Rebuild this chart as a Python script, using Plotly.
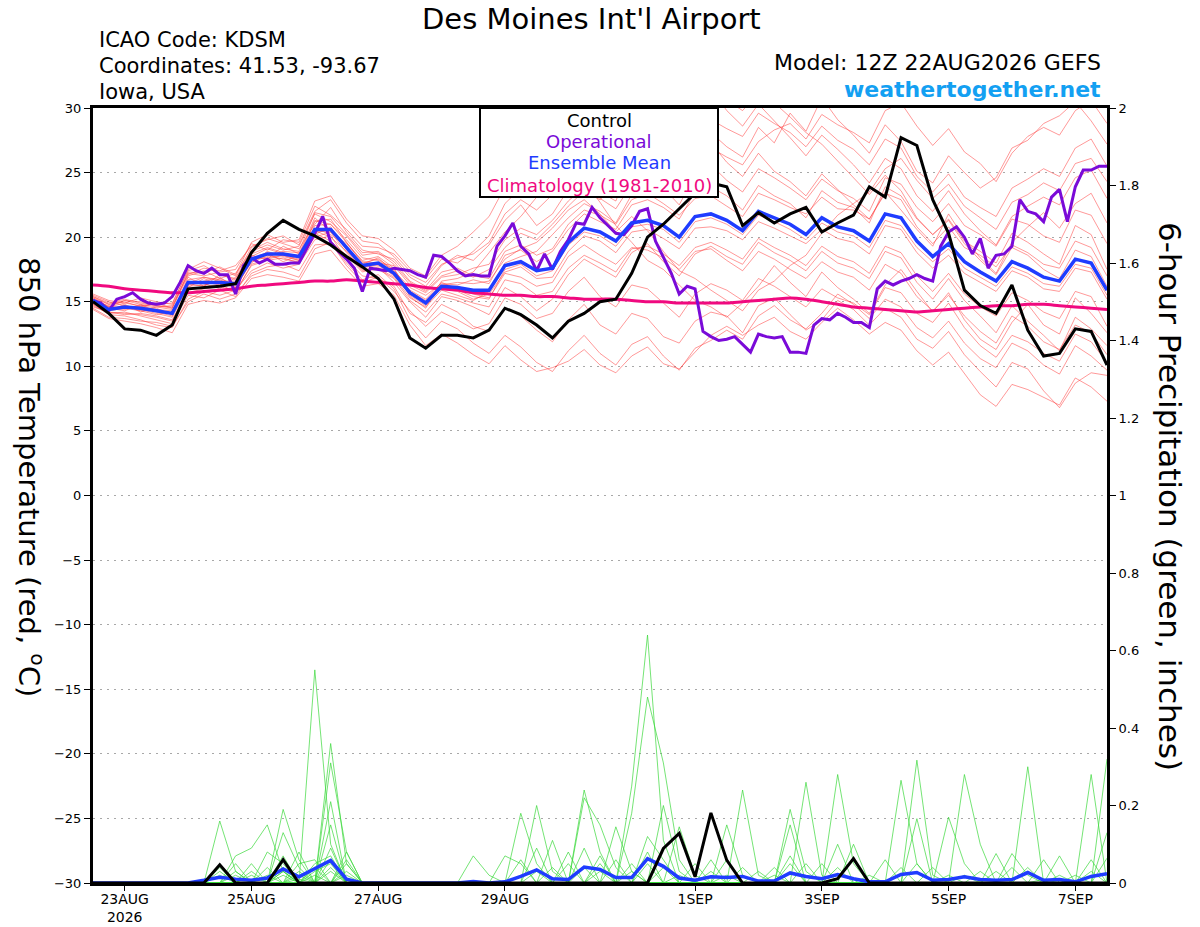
import pandas as pd
import plotly.graph_objects as go

FONT = "DejaVu Sans, Liberation Sans, Arial, sans-serif"

# valid times of the 12Z 22AUG2026 GEFS run (6-hourly), operational run is 3-hourly
times6 = pd.date_range("2026-08-22 12:00", periods=65, freq="6h")
times3 = pd.date_range("2026-08-22 12:00", periods=129, freq="3h")

# ---- 850 hPa temperature (deg C) ----
control_t = [15.0, 14.1, 12.9, 12.8, 12.4, 13.2, 16.0, 16.1, 16.2, 16.4,
             18.8, 20.3, 21.3, 20.6, 20.1, 19.4, 18.5, 17.7, 16.8, 15.2,
             12.2, 11.4, 12.4, 12.4, 12.2, 12.8, 14.5, 14.0, 13.2, 12.2,
             13.5, 14.1, 15.0, 15.2, 17.2, 20.0, 21.0, 22.2, 23.4, 24.2,
             23.9, 20.9, 21.9, 21.1, 21.8, 22.3, 20.4, 21.1, 21.7, 23.9,
             23.1, 27.7, 27.1, 22.9, 20.3, 15.9, 14.7, 14.1, 16.3, 12.8,
             10.8, 11.0, 12.9, 12.7, 10.1]

mean_t = [15.1, 14.4, 14.6, 14.5, 14.3, 14.1, 16.5, 16.5, 16.5, 16.4,
          18.3, 18.7, 18.7, 18.5, 20.6, 20.6, 19.2, 17.8, 18.0, 17.2,
          15.7, 14.9, 16.2, 16.1, 15.9, 15.9, 17.8, 18.1, 17.4, 17.6,
          19.6, 20.7, 20.4, 19.7, 21.1, 21.3, 20.9, 20.0, 21.6, 21.8,
          21.3, 20.5, 22.0, 21.5, 21.0, 20.2, 21.5, 20.8, 20.5, 19.7,
          21.8, 21.5, 19.7, 18.5, 19.5, 18.1, 17.3, 16.6, 18.1, 17.6,
          16.9, 16.6, 18.3, 18.0, 15.9]

oper_t = [15.1, 14.9, 14.3, 15.2, 15.4, 15.7, 15.2, 14.9, 14.8, 14.9,
          15.4, 16.5, 17.8, 17.4, 17.2, 17.6, 17.1, 17.1, 15.6, 17.8,
          18.4, 18.0, 18.3, 17.9, 17.9, 18.0, 18.0, 19.1, 20.3, 21.6,
          19.6, 18.9, 18.3, 17.6, 15.8, 17.6, 17.5, 17.4, 17.6, 17.5,
          17.4, 17.1, 16.9, 18.6, 18.5, 18.0, 17.4, 17.0, 17.1, 17.0,
          17.0, 19.3, 20.1, 21.1, 19.3, 18.7, 17.4, 18.7, 17.5, 18.9,
          19.8, 21.1, 21.0, 22.3, 21.5, 20.9, 20.3, 20.2, 20.9, 22.0,
          22.2, 19.7, 18.5, 17.2, 15.6, 16.2, 16.0, 12.7, 12.3, 12.0,
          12.1, 12.3, 11.7, 11.1, 12.5, 12.3, 12.2, 12.3, 11.1, 11.1,
          11.0, 13.2, 13.7, 13.6, 14.1, 13.8, 13.4, 13.4, 13.0, 16.0,
          16.6, 16.3, 16.6, 16.8, 17.1, 16.8, 16.6, 19.3, 20.4, 20.8,
          20.0, 18.7, 19.9, 17.6, 18.6, 18.7, 19.3, 22.9, 22.0, 21.8,
          21.2, 23.1, 23.7, 21.2, 23.9, 25.2, 25.2, 25.5, 25.5]

clim_t = [16.3, 16.2, 16.0, 15.9, 15.8, 15.7, 15.7, 15.8, 15.9, 16.0,
          16.2, 16.3, 16.4, 16.5, 16.6, 16.6, 16.7, 16.6, 16.5, 16.4,
          16.3, 16.1, 16.0, 15.9, 15.7, 15.6, 15.5, 15.5, 15.4, 15.4,
          15.3, 15.2, 15.2, 15.2, 15.1, 15.0, 15.0, 14.9, 14.9, 14.9,
          14.9, 15.0, 15.1, 15.2, 15.3, 15.2, 15.0, 14.8, 14.6, 14.5,
          14.4, 14.3, 14.2, 14.3, 14.4, 14.5, 14.6, 14.7, 14.7, 14.8,
          14.8, 14.7, 14.6, 14.5, 14.4]

member_t = [
    [15.3, 14.8, 15.0, 14.6, 14.9, 14.5, 17.0, 17.4, 16.8, 17.2, 18.9, 19.4, 19.0, 19.3, 21.8, 21.2, 20.1, 18.6, 18.8, 17.9,
     16.5, 15.8, 17.0, 17.4, 16.9, 17.5, 19.2, 20.3, 19.8, 21.0, 22.4, 23.6, 22.9, 24.1, 25.3, 24.7, 26.0, 25.2, 27.4, 28.1,
     27.0, 26.2, 28.5, 27.3, 29.6, 28.2, 30.8, 29.1, 27.9, 26.5, 28.7, 27.4, 25.1, 24.2, 26.3, 25.0, 23.8, 24.6, 26.9, 27.5,
     28.8, 29.4, 30.5, 29.0, 27.2],
    [14.8, 14.0, 13.9, 13.6, 13.2, 13.0, 15.2, 15.8, 15.5, 15.9, 17.4, 18.0, 17.6, 17.9, 19.8, 20.1, 18.3, 17.0, 16.8, 16.2,
     14.1, 13.4, 14.8, 14.2, 13.1, 12.7, 14.5, 13.9, 12.8, 11.9, 13.6, 14.8, 13.2, 12.5, 14.1, 13.7, 12.3, 11.8, 13.5, 14.2,
     13.9, 12.6, 14.7, 15.3, 14.0, 12.8, 13.6, 15.1, 14.4, 13.2, 14.5, 13.8, 12.1, 11.4, 12.7, 10.9, 9.6, 8.4, 10.3, 9.8,
     8.1, 6.8, 8.7, 9.5, 9.3],
    [15.6, 15.1, 14.9, 15.3, 15.0, 14.8, 17.5, 18.1, 17.6, 17.0, 19.2, 19.9, 19.5, 19.1, 21.0, 22.3, 20.4, 19.0, 18.7, 18.3,
     16.9, 16.2, 17.8, 18.6, 18.2, 19.4, 21.3, 22.5, 20.9, 21.8, 23.7, 24.9, 23.5, 22.8, 25.9, 26.8, 25.4, 24.1, 26.2, 27.3,
     25.8, 24.7, 26.5, 25.1, 24.3, 23.2, 24.9, 23.7, 22.5, 21.4, 23.5, 22.1, 20.6, 19.3, 21.8, 19.9, 18.4, 17.2, 19.6, 20.8,
     21.9, 20.7, 22.6, 23.4, 21.1],
    [14.6, 14.2, 14.1, 14.0, 13.8, 13.5, 15.7, 16.0, 16.2, 15.8, 17.8, 18.2, 18.4, 18.0, 20.3, 19.7, 18.6, 17.3, 17.7, 16.5,
     15.0, 13.8, 15.4, 15.1, 14.6, 14.0, 16.1, 15.4, 14.3, 15.2, 17.1, 18.3, 17.6, 16.9, 18.8, 19.5, 18.1, 17.0, 18.7, 19.3,
     18.5, 17.9, 19.6, 18.8, 18.2, 17.4, 18.9, 18.0, 17.6, 16.8, 18.9, 18.4, 16.5, 15.2, 16.8, 15.1, 13.9, 12.6, 14.7, 13.5,
     12.4, 11.2, 13.8, 12.9, 11.6],
    [15.2, 14.5, 14.3, 14.8, 14.2, 13.9, 16.9, 16.2, 17.1, 16.7, 18.6, 18.3, 19.3, 18.7, 21.5, 20.4, 19.5, 18.2, 18.5, 17.6,
     15.4, 14.5, 16.6, 16.8, 17.3, 18.8, 20.4, 21.6, 23.1, 24.5, 25.8, 24.3, 22.7, 20.9, 19.6, 18.2, 17.5, 16.3, 15.1, 14.6,
     13.8, 14.9, 16.2, 17.8, 16.5, 15.4, 17.3, 16.1, 15.2, 14.1, 16.3, 17.5, 15.8, 14.2, 15.7, 13.6, 12.1, 11.3, 13.4, 14.8,
     13.2, 12.5, 15.3, 14.1, 12.6],
    [14.9, 14.3, 14.8, 14.2, 14.6, 14.4, 16.1, 16.8, 16.3, 16.5, 18.0, 18.9, 18.5, 18.2, 20.9, 21.0, 19.8, 18.4, 18.2, 17.4,
     16.1, 15.5, 16.4, 16.3, 16.7, 16.4, 18.6, 19.0, 18.1, 18.9, 20.6, 21.8, 21.2, 20.6, 22.5, 22.9, 22.3, 21.4, 23.5, 23.9,
     23.2, 22.1, 24.0, 23.2, 22.6, 21.5, 23.6, 22.7, 22.3, 21.1, 23.9, 23.2, 21.4, 20.2, 21.4, 19.7, 18.9, 18.0, 20.3, 19.6,
     18.7, 17.9, 20.9, 20.2, 17.5],
    [15.0, 14.6, 14.4, 14.7, 14.5, 14.0, 16.3, 16.6, 16.9, 16.1, 18.1, 18.5, 18.9, 18.8, 20.2, 20.8, 19.0, 17.6, 17.9, 17.0,
     15.6, 15.0, 16.0, 15.8, 15.2, 15.6, 17.3, 17.7, 16.8, 16.9, 18.9, 20.1, 19.7, 18.8, 20.4, 20.6, 19.9, 19.1, 20.7, 20.8,
     20.5, 19.8, 21.2, 20.7, 20.1, 19.5, 20.6, 19.9, 19.6, 18.7, 20.9, 20.6, 18.8, 17.6, 18.6, 17.2, 16.5, 15.8, 17.4, 16.9,
     16.0, 15.8, 17.6, 17.3, 15.2],
    [15.4, 14.9, 15.2, 14.9, 14.7, 14.6, 17.2, 17.0, 17.3, 17.5, 19.5, 19.0, 19.8, 19.6, 22.4, 21.7, 20.6, 19.3, 19.2, 18.7,
     17.4, 16.8, 18.3, 18.0, 18.9, 20.1, 22.6, 23.8, 24.4, 25.6, 26.9, 28.3, 27.2, 26.4, 28.7, 29.5, 30.6, 29.3, 30.9, 31.5,
     29.8, 28.6, 30.3, 29.0, 27.7, 26.3, 27.9, 26.8, 25.6, 24.2, 26.1, 25.3, 23.2, 22.0, 23.6, 21.8, 20.5, 19.4, 21.6, 22.4,
     23.1, 22.5, 24.6, 25.2, 23.0],
    [14.7, 14.1, 14.2, 13.9, 13.6, 13.3, 15.5, 15.3, 15.9, 15.4, 17.2, 17.7, 17.9, 17.4, 19.4, 19.5, 18.0, 16.7, 17.1, 16.0,
     13.6, 12.2, 13.5, 12.9, 11.8, 11.0, 12.4, 11.5, 10.3, 9.6, 11.2, 12.4, 11.0, 10.1, 11.7, 12.3, 10.8, 9.7, 11.4, 12.0,
     12.8, 12.1, 13.9, 14.7, 13.6, 12.9, 14.1, 15.6, 14.8, 13.7, 15.2, 14.6, 13.0, 12.2, 13.5, 11.8, 10.6, 9.9, 11.8, 11.2,
     10.1, 9.4, 11.6, 10.8, 9.7],
    [15.1, 14.7, 14.5, 14.3, 14.0, 14.2, 16.6, 16.4, 16.0, 16.9, 18.4, 18.8, 18.1, 18.6, 20.7, 20.2, 19.3, 17.9, 18.4, 17.3,
     15.9, 15.2, 16.5, 16.0, 15.6, 15.3, 17.2, 16.9, 16.2, 16.5, 18.5, 19.4, 18.6, 17.9, 19.2, 19.0, 18.4, 17.5, 18.9, 19.1,
     18.2, 17.4, 18.9, 18.3, 17.5, 16.8, 18.1, 17.3, 16.9, 15.9, 17.9, 17.2, 15.4, 14.3, 15.5, 13.9, 12.7, 11.8, 13.9, 13.1,
     11.9, 11.3, 13.2, 12.6, 10.9],
    [15.5, 15.0, 14.7, 14.5, 14.4, 14.3, 16.4, 16.9, 16.7, 16.2, 18.7, 19.2, 18.8, 18.4, 21.2, 21.4, 19.6, 18.1, 18.0, 17.8,
     16.3, 15.7, 16.9, 17.1, 17.6, 17.9, 19.8, 20.7, 20.2, 21.3, 22.8, 23.9, 23.0, 22.2, 24.1, 24.6, 23.8, 22.5, 24.8, 25.6,
     24.4, 23.5, 25.3, 24.6, 23.8, 22.9, 24.5, 23.6, 23.0, 22.0, 24.6, 24.1, 22.3, 21.2, 22.6, 20.9, 20.2, 19.3, 21.4, 21.0,
     20.1, 19.6, 22.1, 21.7, 19.5],
    [14.9, 14.4, 14.6, 14.4, 14.1, 13.8, 16.2, 16.3, 16.6, 16.0, 18.2, 18.6, 18.3, 18.1, 20.5, 20.0, 18.9, 17.5, 17.6, 16.9,
     15.3, 14.6, 15.9, 15.5, 15.1, 15.8, 18.0, 18.5, 18.9, 20.2, 21.5, 22.6, 22.0, 21.1, 23.3, 24.2, 24.8, 23.9, 25.8, 26.9,
     26.2, 25.6, 27.4, 28.3, 28.8, 27.6, 29.5, 28.7, 28.1, 27.3, 29.8, 30.4, 28.6, 27.1, 28.4, 26.6, 25.7, 24.3, 26.5, 27.8,
     28.5, 27.9, 29.8, 30.6, 28.8],
    [15.3, 14.6, 14.9, 14.7, 14.8, 14.9, 17.4, 17.8, 17.1, 16.8, 19.0, 19.6, 19.1, 18.9, 21.9, 21.6, 20.2, 18.8, 18.9, 18.1,
     16.6, 15.9, 17.3, 17.6, 17.0, 16.8, 18.9, 19.4, 18.6, 19.1, 21.0, 22.1, 21.7, 21.0, 22.9, 23.4, 22.6, 21.7, 23.0, 23.2,
     22.4, 21.6, 23.4, 22.9, 22.3, 21.8, 23.1, 22.2, 22.1, 21.4, 23.4, 22.9, 20.8, 19.5, 20.8, 19.2, 18.6, 17.7, 19.4, 18.8,
     17.9, 17.6, 19.7, 19.2, 17.0],
    [14.5, 13.8, 13.7, 13.5, 13.4, 13.1, 15.0, 15.6, 15.2, 15.6, 17.0, 17.5, 17.3, 16.9, 19.1, 19.6, 17.8, 16.5, 16.9, 15.8,
     14.3, 13.1, 14.2, 13.6, 12.9, 13.3, 15.3, 14.8, 13.7, 14.1, 15.8, 16.9, 15.4, 14.6, 16.3, 16.0, 14.9, 13.8, 15.6, 16.4,
     15.9, 15.1, 16.8, 16.2, 15.4, 14.6, 16.0, 15.3, 14.9, 14.0, 16.1, 15.7, 14.1, 13.4, 14.9, 13.0, 11.6, 10.7, 12.4, 11.9,
     11.0, 10.4, 12.5, 11.9, 10.3],
    [14.4, 13.7, 13.5, 13.3, 13.0, 12.6, 14.8, 15.1, 14.9, 15.3, 16.8, 17.1, 16.9, 16.6, 18.7, 19.0, 17.5, 16.2, 16.4, 15.5,
     13.2, 11.6, 12.5, 11.8, 10.9, 10.2, 11.6, 10.5, 9.6, 9.9, 10.4, 11.3, 10.1, 9.5, 10.8, 11.5, 10.2, 9.8, 11.1, 12.4,
     13.1, 12.4, 13.2, 13.8, 12.7, 12.1, 13.4, 14.5, 13.6, 12.5, 13.4, 12.8, 11.2, 10.1, 11.1, 9.4, 7.8, 6.9, 8.6, 8.2,
     7.6, 7.0, 9.1, 8.4, 7.3],
    [15.2, 14.6, 15.1, 14.8, 14.6, 14.7, 17.1, 17.6, 17.4, 17.8, 19.3, 19.8, 20.1, 19.4, 22.0, 22.9, 21.1, 19.7, 19.5, 18.5,
     17.1, 16.5, 17.9, 18.4, 18.7, 19.6, 21.8, 22.9, 22.1, 23.3, 24.8, 26.2, 25.5, 24.6, 26.9, 27.5, 27.0, 26.1, 28.3, 29.1,
     28.4, 27.8, 29.6, 28.8, 28.1, 27.0, 28.6, 27.5, 26.8, 25.6, 27.6, 26.9, 24.7, 23.5, 24.9, 23.1, 22.3, 21.6, 23.8, 24.5,
     25.3, 24.7, 26.9, 27.6, 25.5],
    [14.8, 14.2, 14.0, 14.1, 13.9, 13.6, 15.9, 16.1, 16.4, 15.7, 17.9, 18.3, 18.6, 18.3, 20.0, 20.4, 18.8, 17.4, 17.5, 16.8,
     15.1, 14.2, 15.6, 15.3, 14.9, 14.6, 16.7, 16.4, 15.5, 15.8, 17.6, 18.6, 18.0, 17.3, 19.1, 19.3, 18.7, 17.8, 19.2, 19.6,
     19.0, 18.3, 19.9, 19.2, 18.6, 17.8, 19.3, 18.5, 18.1, 17.2, 19.3, 18.8, 17.0, 15.8, 17.2, 15.6, 14.6, 13.9, 15.7, 15.1,
     14.2, 13.7, 15.8, 15.4, 13.1],
    [15.0, 14.4, 14.7, 14.3, 14.3, 14.2, 16.7, 16.9, 16.6, 16.6, 18.5, 19.1, 18.7, 18.6, 21.3, 21.0, 19.6, 18.0, 18.3, 17.5,
     15.8, 15.1, 16.3, 16.5, 16.4, 16.6, 18.3, 19.1, 19.6, 20.7, 22.1, 22.9, 21.8, 20.4, 21.6, 20.5, 18.9, 17.4, 16.8, 15.9,
     15.1, 14.3, 15.9, 16.6, 17.8, 18.6, 20.3, 21.7, 22.6, 23.5, 25.3, 26.1, 24.4, 23.0, 24.1, 22.4, 21.5, 20.6, 22.7, 23.3,
     24.2, 23.6, 25.7, 26.1, 24.3],
    [15.2, 14.3, 14.5, 14.6, 14.4, 14.0, 16.4, 16.2, 16.8, 16.3, 18.3, 18.4, 18.6, 18.2, 20.4, 20.5, 19.1, 17.7, 17.8, 17.1,
     15.5, 14.7, 16.1, 15.9, 15.4, 15.2, 17.5, 17.9, 17.0, 17.4, 19.4, 20.4, 20.1, 19.3, 20.8, 21.0, 20.6, 19.6, 21.2, 21.5,
     21.0, 20.2, 21.7, 21.2, 20.6, 19.8, 21.1, 20.4, 20.1, 19.2, 21.3, 20.9, 19.2, 18.1, 19.1, 17.6, 16.9, 16.2, 17.7, 17.2,
     16.4, 16.2, 17.9, 17.6, 15.5],
    [15.4, 14.8, 15.1, 15.0, 14.7, 14.5, 17.3, 17.2, 17.7, 17.1, 19.6, 20.2, 19.6, 19.8, 22.8, 23.2, 21.4, 20.1, 19.9, 19.0,
     17.6, 17.0, 18.6, 19.3, 20.4, 21.6, 23.9, 25.1, 25.8, 26.7, 28.1, 29.4, 28.6, 27.8, 30.2, 31.0, 30.1, 28.9, 30.7, 31.8,
     30.6, 29.8, 31.2, 30.4, 29.3, 28.1, 27.2, 25.9, 24.6, 23.3, 24.8, 23.6, 21.5, 20.2, 21.3, 19.5, 18.2, 17.1, 19.2, 18.6,
     17.5, 16.8, 19.0, 18.5, 16.2],
]

# ---- 6-hour precipitation (inches) ----
control_p = [0, 0, 0, 0, 0, 0, 0, 0, 0.047, 0,
             0, 0, 0.06, 0, 0, 0, 0, 0, 0, 0,
             0, 0, 0, 0, 0, 0, 0, 0, 0, 0,
             0, 0, 0, 0, 0, 0, 0.089, 0.128, 0.016, 0.181,
             0.059, 0, 0, 0, 0, 0, 0, 0.011, 0.063, 0,
             0, 0, 0, 0, 0, 0, 0, 0, 0, 0,
             0, 0, 0, 0, 0]

mean_p = [0, 0, 0, 0, 0, 0, 0, 0.007, 0.015, 0.01,
          0.007, 0.013, 0.036, 0.016, 0.037, 0.058, 0.01, 0, 0, 0,
          0, 0, 0, 0, 0.004, 0, 0.003, 0.017, 0.034, 0.011,
          0.009, 0.041, 0.035, 0.014, 0.014, 0.063, 0.043, 0.013, 0.007, 0.016,
          0.014, 0.017, 0.005, 0.005, 0.026, 0.017, 0.011, 0.022, 0.011, 0.003,
          0.003, 0.022, 0.027, 0.007, 0.009, 0.016, 0.009, 0.007, 0.009, 0.027,
          0.007, 0.009, 0.003, 0.017, 0.024]

# members: {6-hour step: inches}, all other steps dry
member_p = [
    {8: 0.16, 9: 0.03, 14: 0.55, 15: 0.10, 34: 0.25, 35: 0.64, 36: 0.11, 52: 0.05},
    {12: 0.19, 13: 0.06, 15: 0.36, 16: 0.05, 34: 0.18, 35: 0.48, 36: 0.31, 37: 0.06, 59: 0.30},
    {9: 0.07, 10: 0.09, 11: 0.15, 12: 0.03, 15: 0.31, 16: 0.08, 27: 0.18, 28: 0.05, 44: 0.19, 45: 0.03, 63: 0.28},
    {12: 0.13, 13: 0.04, 15: 0.21, 31: 0.24, 32: 0.08, 47: 0.28, 48: 0.05, 64: 0.32},
    {11: 0.08, 12: 0.05, 15: 0.15, 28: 0.20, 29: 0.03, 41: 0.24, 42: 0.02, 55: 0.28, 56: 0.10},
    {8: 0.04, 13: 0.05, 14: 0.06, 31: 0.22, 32: 0.15, 33: 0.04, 45: 0.26, 46: 0.02, 51: 0.265, 52: 0.05},
    {9: 0.03, 12: 0.06, 16: 0.08, 33: 0.145, 34: 0.03, 40: 0.15, 41: 0.02, 52: 0.317, 53: 0.02},
    {10: 0.02, 12: 0.04, 15: 0.06, 29: 0.11, 37: 0.145, 38: 0.02, 44: 0.15, 54: 0.17, 55: 0.05},
    {8: 0.03, 12: 0.03, 16: 0.06, 24: 0.07, 25: 0.02, 36: 0.20, 37: 0.03, 58: 0.076, 59: 0.02, 64: 0.064},
    {11: 0.04, 14: 0.03, 15: 0.05, 26: 0.07, 27: 0.05, 32: 0.07, 39: 0.06, 47: 0.10, 61: 0.07},
    {9: 0.02, 13: 0.03, 16: 0.05, 30: 0.05, 35: 0.08, 43: 0.04, 52: 0.166, 57: 0.076},
    {12: 0.02, 14: 0.04, 28: 0.09, 34: 0.05, 40: 0.06, 48: 0.10, 60: 0.06},
    {10: 0.03, 13: 0.02, 15: 0.04, 27: 0.06, 31: 0.09, 38: 0.05, 44: 0.07, 56: 0.03, 63: 0.06},
    {8: 0.02, 11: 0.02, 16: 0.03, 29: 0.04, 35: 0.12, 36: 0.06, 42: 0.03, 49: 0.02, 58: 0.04},
    {13: 0.08, 15: 0.09, 32: 0.05, 36: 0.04, 45: 0.05, 53: 0.04, 62: 0.02},
    {12: 0.07, 14: 0.02, 30: 0.08, 34: 0.03, 41: 0.04, 50: 0.06, 59: 0.04},
    {10: 0.05, 15: 0.03, 33: 0.06, 39: 0.03, 46: 0.05, 55: 0.02, 64: 0.13},
    {12: 0.03, 16: 0.02, 28: 0.03, 35: 0.05, 43: 0.02, 51: 0.04, 61: 0.02},
    {9: 0.05, 13: 0.01, 31: 0.04, 37: 0.02, 44: 0.05, 57: 0.03, 63: 0.03},
    {14: 0.05, 15: 0.07, 32: 0.03, 40: 0.02, 47: 0.04, 54: 0.02, 60: 0.01},
]

tick_days = ["2026-08-23", "2026-08-25", "2026-08-27", "2026-08-29",
             "2026-09-01", "2026-09-03", "2026-09-05", "2026-09-07"]
tick_text = ["23AUG<br>2026", "25AUG", "27AUG", "29AUG", "1SEP", "3SEP", "5SEP", "7SEP"]

RED = "rgba(255,60,60,0.75)"
GREEN = "#3ad83a"
PURPLE = "#7a0ad8"
BLUE = "#1f3cff"
PINK = "#f0097f"

fig = go.Figure()

for m in member_t:
    fig.add_trace(go.Scatter(x=times6, y=m, mode="lines",
                             line=dict(color=RED, width=0.7), hoverinfo="skip"))

for m in member_p:
    vals = [m.get(i, 0) for i in range(len(times6))]
    fig.add_trace(go.Scatter(x=times6, y=vals, yaxis="y2", mode="lines",
                             line=dict(color=GREEN, width=0.7), hoverinfo="skip"))

fig.add_trace(go.Scatter(x=times6, y=mean_p, yaxis="y2", mode="lines",
                         line=dict(color=BLUE, width=3.5)))
fig.add_trace(go.Scatter(x=times6, y=control_p, yaxis="y2", mode="lines",
                         line=dict(color="black", width=3)))
fig.add_trace(go.Scatter(x=times6, y=clim_t, mode="lines",
                         line=dict(color=PINK, width=3, shape="spline")))
fig.add_trace(go.Scatter(x=times3, y=oper_t, mode="lines",
                         line=dict(color=PURPLE, width=3)))
fig.add_trace(go.Scatter(x=times6, y=mean_t, mode="lines",
                         line=dict(color=BLUE, width=3.5)))
fig.add_trace(go.Scatter(x=times6, y=control_t, mode="lines",
                         line=dict(color="black", width=3)))

fig.update_layout(
    width=1200, height=927, autosize=False,
    margin=dict(l=93, r=93, t=108, b=44, autoexpand=False),
    paper_bgcolor="white", plot_bgcolor="white",
    showlegend=False,
    font=dict(family=FONT, color="black"),
    xaxis=dict(range=[times6[0], times6[-1]], showgrid=False, zeroline=False,
               automargin=False,
               tickvals=pd.to_datetime(tick_days), ticktext=tick_text,
               ticks="outside", ticklen=5, tickwidth=1, tickcolor="black",
               ticklabelstandoff=-4,
               tickfont=dict(size=14), showline=True, linecolor="black",
               linewidth=3, mirror=True),
    yaxis=dict(range=[-30, 30], dtick=5, showgrid=True, gridcolor="#a8a8a8",
               griddash="2px,5px", gridwidth=1.2, zeroline=False,
               automargin=False,
               ticks="outside", ticklen=6, tickcolor="black",
               tickfont=dict(size=13), showline=True, linecolor="black",
               linewidth=3),
    yaxis2=dict(range=[0, 2], dtick=0.2, overlaying="y", side="right",
                automargin=False,
                showgrid=False, zeroline=False, ticks="outside", ticklen=6,
                tickcolor="black", tickfont=dict(size=13), showline=True,
                linecolor="black", linewidth=3),
)


def px_x(px):
    return (px - 93) / 1014


def px_y(py):
    return (883 - py) / 775


notes = [
    ("ICAO Code: KDSM", 97, 40, 21, "black", "left", False),
    ("Coordinates: 41.53, -93.67", 97, 66, 21, "black", "left", False),
    ("Iowa, USA", 97, 92, 21, "black", "left", False),
    ("Model: 12Z 22AUG2026 GEFS", 1103, 63, 22, "black", "right", False),
    ("weathertogether.net", 1103, 89, 22, "#13a0f2", "right", True),
    ("Control", 599, 121, 18, "black", "center", False),
    ("Operational", 599, 142, 18, PURPLE, "center", False),
    ("Ensemble Mean", 599, 163, 18, BLUE, "center", False),
    ("Climatology (1981-2010)", 599, 185, 18, PINK, "center", False),
]
for text, x, y, size, color, anchor, bold in notes:
    fig.add_annotation(text=f"<b>{text}</b>" if bold else text,
                       xref="paper", yref="paper", x=px_x(x), y=px_y(y),
                       xanchor=anchor, yanchor="middle", showarrow=False,
                       font=dict(size=size, color=color, family=FONT))

# title hangs from the top edge of the page
fig.add_annotation(text="Des Moines Int'l Airport", xref="paper", yref="paper",
                   x=px_x(591), y=px_y(0), xanchor="center", yanchor="top",
                   showarrow=False, font=dict(size=29, family=FONT))

# rotated axis titles (both read top to bottom)
fig.add_annotation(text="850 hPa Temperature (red, <sup>o</sup>C)", xref="paper", yref="paper",
                   x=px_x(31), y=px_y(477), textangle=90, showarrow=False,
                   xanchor="center", yanchor="middle", font=dict(size=29, family=FONT))
fig.add_annotation(text="6-hour Precipitation (green, inches)", xref="paper", yref="paper",
                   x=px_x(1170), y=px_y(496), textangle=90, showarrow=False,
                   xanchor="center", yanchor="middle", font=dict(size=31, family=FONT))

# legend box
fig.add_shape(type="rect", xref="paper", yref="paper",
              x0=px_x(480), x1=px_x(718), y0=px_y(197), y1=px_y(108),
              line=dict(color="black", width=2), fillcolor="white", layer="above")

# drop the default 8px page margin so the figure fills the window exactly
fig.write_html("out.html", config={"displayModeBar": False},
               post_script="document.body.style.margin = '0';")
